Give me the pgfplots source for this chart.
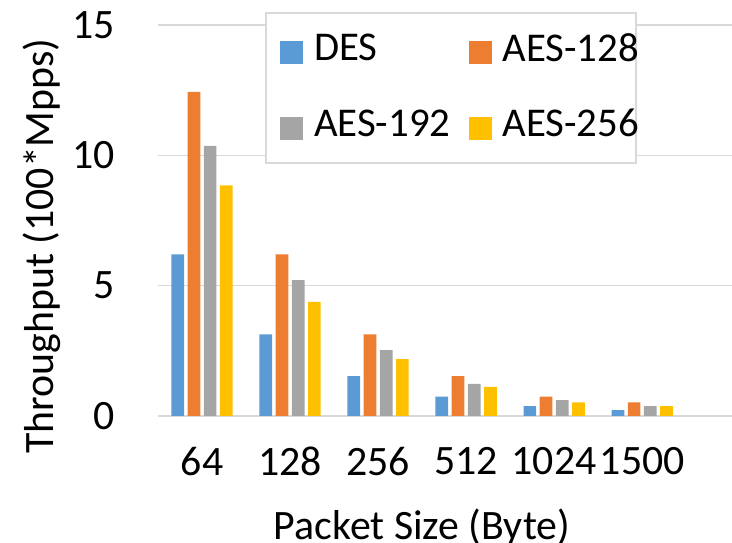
\documentclass[border=0pt]{standalone}
\usepackage{pgfplots}
\pgfplotsset{compat=1.18}
\usepackage{fontspec}
\setmainfont{Carlito}
\definecolor{cdes}{HTML}{5B9BD5}
\definecolor{caesa}{HTML}{ED7D31}
\definecolor{caesb}{HTML}{A5A5A5}
\definecolor{caesc}{HTML}{FFC000}
\definecolor{gridc}{HTML}{D9D9D9}
\begin{document}
\begin{tikzpicture}
\begin{axis}[
  scale only axis, width=574bp, height=404.1bp,
  xmin=-0.5, xmax=6.02, ymin=0, ymax=15.5,
  ybar=3.5bp, bar width=12.7bp,
  xtick={0,1,2,3,4,5}, xticklabels={64,128,256,512,1024,1500},
  ytick={0,5,10,15},
  axis line style={draw=none},
  major tick length=0pt,
  ymajorgrids, grid style={gridc, line width=1.5bp},
  /pgf/number format/assume math mode=true,
  ticklabel style={font=\fontsize{42}{50}\selectfont, inner sep=0pt},
  yticklabel style={anchor=east},
  xticklabel style={anchor=north},
  yticklabel shift=43bp, xticklabel shift=31bp,
  xlabel={Packet Size (Byte)},
  ylabel={Throughput (100*Mpps)},
  label style={font=\fontsize{42}{50}\selectfont, inner sep=0pt},
  xlabel style={at={(axis description cs:0.46,-0.306)}, anchor=base},
  ylabel style={at={(axis description cs:-0.1829,0.4207)}, anchor=base},
  legend columns=2, legend cell align=left,
  legend image code/.code={\fill[#1] (0bp,-16.5bp) rectangle (23bp,6.5bp);},
  legend style={draw=none, fill=none, inner sep=0pt,
    at={(axis description cs:0.2125,0.9478)}, anchor=north west,
    font=\fontsize{41}{49}\selectfont,
    nodes={inner sep=0pt},
    /tikz/every odd column/.style={column sep=11bp},
    /tikz/every even column/.style={column sep=18bp},
    row sep=45bp},
]
\addplot[fill=cdes, draw=none] coordinates {(0,6.2) (1,3.13) (2,1.53) (3,0.74) (4,0.38) (5,0.23)};
\addplot[fill=caesa, draw=none] coordinates {(0,12.43) (1,6.2) (2,3.13) (3,1.53) (4,0.74) (5,0.52)};
\addplot[fill=caesb, draw=none] coordinates {(0,10.36) (1,5.21) (2,2.53) (3,1.23) (4,0.61) (5,0.38)};
\addplot[fill=caesc, draw=none] coordinates {(0,8.85) (1,4.38) (2,2.18) (3,1.12) (4,0.52) (5,0.38)};
\legend{DES,AES-128,AES-192,AES-256}
\draw[gridc, line width=1.5bp, fill=white] (axis description cs:0.1882,0.6261) rectangle (axis description cs:0.8328,0.9973);
\coordinate (bl) at (rel axis cs:0,0);
\coordinate (tr) at (rel axis cs:1,1);
\end{axis}
\pgfresetboundingbox
\path ([shift={(-158bp,-127bp)}]bl) rectangle ([shift={(0bp,11.9bp)}]tr);
\end{tikzpicture}
\end{document}
